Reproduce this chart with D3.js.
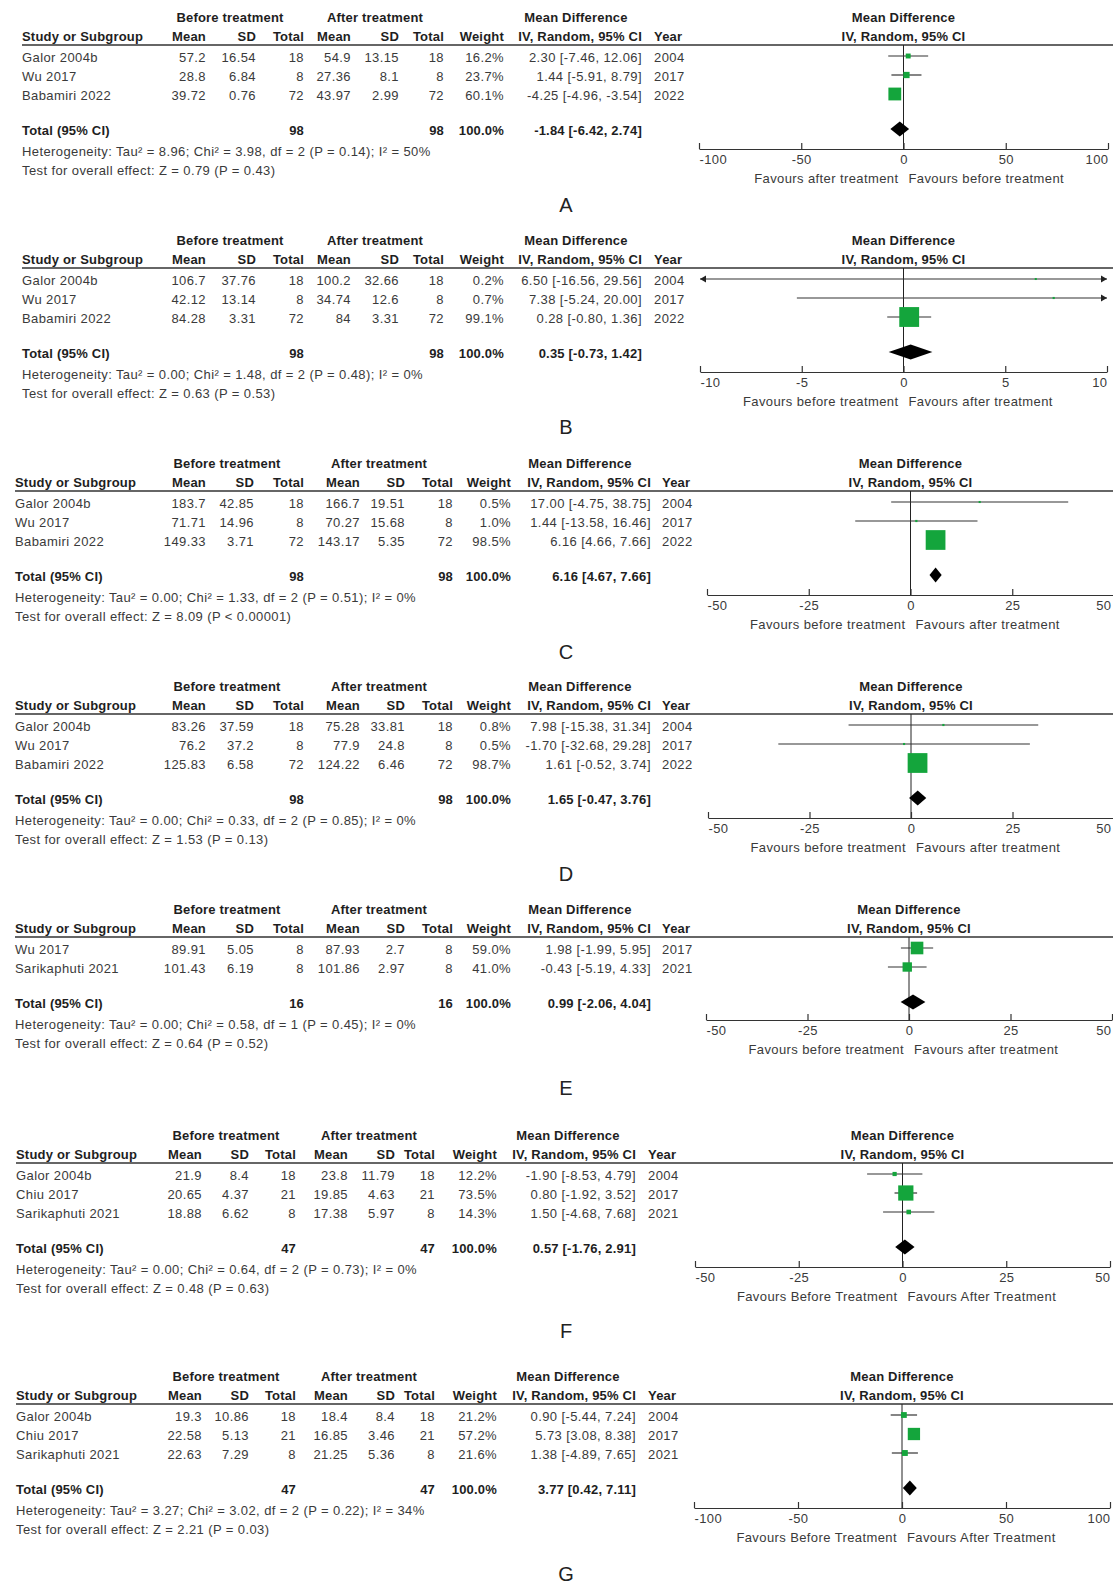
<!DOCTYPE html>
<html><head><meta charset="utf-8">
<script src="https://cdn.jsdelivr.net/npm/d3@7"></script>
<style>
body{margin:0;background:#fff}
svg{display:block}
text{font-family:"Liberation Sans",Arial,sans-serif}
</style>
</head><body>
<svg id="chart" width="1113" height="1584"></svg>
<script>
// ---------------- DATA ----------------
// Panel A
const studyA = ["Galor 2004b", "Wu 2017", "Babamiri 2022"];
const beforeA = [[57.2, 16.54, 18], [28.8, 6.84, 8], [39.72, 0.76, 72]];
const afterA = [[54.9, 13.15, 18], [27.36, 8.1, 8], [43.97, 2.99, 72]];
const weightA = [16.2, 23.7, 60.1];
const mdA = [[2.30, -7.46, 12.06], [1.44, -5.91, 8.79], [-4.25, -4.96, -3.54]];
const yearA = [2004, 2017, 2022];
const totalA = [98, 98, -1.84, -6.42, 2.74];
const hetA = "Heterogeneity: Tau² = 8.96; Chi² = 3.98, df = 2 (P = 0.14); I² = 50%";
const testA = "Test for overall effect: Z = 0.79 (P = 0.43)";
const ticksA = [-100, -50, 0, 50, 100];
const favoursA = ["Favours after treatment", "Favours before treatment"];

// Panel B
const studyB = ["Galor 2004b", "Wu 2017", "Babamiri 2022"];
const beforeB = [[106.7, 37.76, 18], [42.12, 13.14, 8], [84.28, 3.31, 72]];
const afterB = [[100.2, 32.66, 18], [34.74, 12.6, 8], [84, 3.31, 72]];
const weightB = [0.2, 0.7, 99.1];
const mdB = [[6.50, -16.56, 29.56], [7.38, -5.24, 20.00], [0.28, -0.80, 1.36]];
const yearB = [2004, 2017, 2022];
const totalB = [98, 98, 0.35, -0.73, 1.42];
const hetB = "Heterogeneity: Tau² = 0.00; Chi² = 1.48, df = 2 (P = 0.48); I² = 0%";
const testB = "Test for overall effect: Z = 0.63 (P = 0.53)";
const ticksB = [-10, -5, 0, 5, 10];
const favoursB = ["Favours before treatment", "Favours after treatment"];

// Panel C
const studyC = ["Galor 2004b", "Wu 2017", "Babamiri 2022"];
const beforeC = [[183.7, 42.85, 18], [71.71, 14.96, 8], [149.33, 3.71, 72]];
const afterC = [[166.7, 19.51, 18], [70.27, 15.68, 8], [143.17, 5.35, 72]];
const weightC = [0.5, 1.0, 98.5];
const mdC = [[17.00, -4.75, 38.75], [1.44, -13.58, 16.46], [6.16, 4.66, 7.66]];
const yearC = [2004, 2017, 2022];
const totalC = [98, 98, 6.16, 4.67, 7.66];
const hetC = "Heterogeneity: Tau² = 0.00; Chi² = 1.33, df = 2 (P = 0.51); I² = 0%";
const testC = "Test for overall effect: Z = 8.09 (P < 0.00001)";
const ticksC = [-50, -25, 0, 25, 50];
const favoursC = ["Favours before treatment", "Favours after treatment"];

// Panel D
const studyD = ["Galor 2004b", "Wu 2017", "Babamiri 2022"];
const beforeD = [[83.26, 37.59, 18], [76.2, 37.2, 8], [125.83, 6.58, 72]];
const afterD = [[75.28, 33.81, 18], [77.9, 24.8, 8], [124.22, 6.46, 72]];
const weightD = [0.8, 0.5, 98.7];
const mdD = [[7.98, -15.38, 31.34], [-1.70, -32.68, 29.28], [1.61, -0.52, 3.74]];
const yearD = [2004, 2017, 2022];
const totalD = [98, 98, 1.65, -0.47, 3.76];
const hetD = "Heterogeneity: Tau² = 0.00; Chi² = 0.33, df = 2 (P = 0.85); I² = 0%";
const testD = "Test for overall effect: Z = 1.53 (P = 0.13)";
const ticksD = [-50, -25, 0, 25, 50];
const favoursD = ["Favours before treatment", "Favours after treatment"];

// Panel E
const studyE = ["Wu 2017", "Sarikaphuti 2021"];
const beforeE = [[89.91, 5.05, 8], [101.43, 6.19, 8]];
const afterE = [[87.93, 2.7, 8], [101.86, 2.97, 8]];
const weightE = [59.0, 41.0];
const mdE = [[1.98, -1.99, 5.95], [-0.43, -5.19, 4.33]];
const yearE = [2017, 2021];
const totalE = [16, 16, 0.99, -2.06, 4.04];
const hetE = "Heterogeneity: Tau² = 0.00; Chi² = 0.58, df = 1 (P = 0.45); I² = 0%";
const testE = "Test for overall effect: Z = 0.64 (P = 0.52)";
const ticksE = [-50, -25, 0, 25, 50];
const favoursE = ["Favours before treatment", "Favours after treatment"];

// Panel F
const studyF = ["Galor 2004b", "Chiu 2017", "Sarikaphuti 2021"];
const beforeF = [[21.9, 8.4, 18], [20.65, 4.37, 21], [18.88, 6.62, 8]];
const afterF = [[23.8, 11.79, 18], [19.85, 4.63, 21], [17.38, 5.97, 8]];
const weightF = [12.2, 73.5, 14.3];
const mdF = [[-1.90, -8.53, 4.79], [0.80, -1.92, 3.52], [1.50, -4.68, 7.68]];
const yearF = [2004, 2017, 2021];
const totalF = [47, 47, 0.57, -1.76, 2.91];
const hetF = "Heterogeneity: Tau² = 0.00; Chi² = 0.64, df = 2 (P = 0.73); I² = 0%";
const testF = "Test for overall effect: Z = 0.48 (P = 0.63)";
const ticksF = [-50, -25, 0, 25, 50];
const favoursF = ["Favours Before Treatment", "Favours After Treatment"];

// Panel G
const studyG = ["Galor 2004b", "Chiu 2017", "Sarikaphuti 2021"];
const beforeG = [[19.3, 10.86, 18], [22.58, 5.13, 21], [22.63, 7.29, 8]];
const afterG = [[18.4, 8.4, 18], [16.85, 3.46, 21], [21.25, 5.36, 8]];
const weightG = [21.2, 57.2, 21.6];
const mdG = [[0.90, -5.44, 7.24], [5.73, 3.08, 8.38], [1.38, -4.89, 7.65]];
const yearG = [2004, 2017, 2021];
const totalG = [47, 47, 3.77, 0.42, 7.11];
const hetG = "Heterogeneity: Tau² = 3.27; Chi² = 3.02, df = 2 (P = 0.22); I² = 34%";
const testG = "Test for overall effect: Z = 2.21 (P = 0.03)";
const ticksG = [-100, -50, 0, 50, 100];
const favoursG = ["Favours Before Treatment", "Favours After Treatment"];

const panelLetters = ["A", "B", "C", "D", "E", "F", "G"];
const groupHeaders = ["Before treatment", "After treatment", "Mean Difference"];
const columnHeaders = ["Mean", "SD", "Total", "Mean", "SD", "Total", "Weight", "IV, Random, 95% CI"];
const plotHeaders = ["Mean Difference", "IV, Random, 95% CI"];

// ---------------- LAYOUT ----------------
const layAB = {left: 22, cols: [206, 256, 304, 351, 399, 444, 504, 642], yearX: 654, groupX: [230, 375, 576]};
const layCDE = {left: 15, cols: [206, 254, 304, 360, 405, 453, 511, 651], yearX: 662, groupX: [227, 379, 580]};
const layFG = {left: 16, cols: [202, 249, 296, 348, 395, 435, 497, 636], yearX: 648, groupX: [226, 369, 568]};

const panels = [
  {study: studyA, before: beforeA, after: afterA, weight: weightA, md: mdA, year: yearA, total: totalA, het: hetA, test: testA, ticks: ticksA, favours: favoursA,
   lay: layAB, top: 17, plotX: [699, 1108], letterY: 205},
  {study: studyB, before: beforeB, after: afterB, weight: weightB, md: mdB, year: yearB, total: totalB, het: hetB, test: testB, ticks: ticksB, favours: favoursB,
   lay: layAB, top: 240, plotX: [700, 1107], letterY: 427},
  {study: studyC, before: beforeC, after: afterC, weight: weightC, md: mdC, year: yearC, total: totalC, het: hetC, test: testC, ticks: ticksC, favours: favoursC,
   lay: layCDE, top: 463, plotX: [707, 1114], letterY: 652},
  {study: studyD, before: beforeD, after: afterD, weight: weightD, md: mdD, year: yearD, total: totalD, het: hetD, test: testD, ticks: ticksD, favours: favoursD,
   lay: layCDE, top: 686, plotX: [708, 1114], letterY: 874},
  {study: studyE, before: beforeE, after: afterE, weight: weightE, md: mdE, year: yearE, total: totalE, het: hetE, test: testE, ticks: ticksE, favours: favoursE,
   lay: layCDE, top: 909, plotX: [706, 1112], letterY: 1088},
  {study: studyF, before: beforeF, after: afterF, weight: weightF, md: mdF, year: yearF, total: totalF, het: hetF, test: testF, ticks: ticksF, favours: favoursF,
   lay: layFG, top: 1135, plotX: [695, 1110], letterY: 1331},
  {study: studyG, before: beforeG, after: afterG, weight: weightG, md: mdG, year: yearG, total: totalG, het: hetG, test: testG, ticks: ticksG, favours: favoursG,
   lay: layFG, top: 1376, plotX: [694, 1110], letterY: 1574}
];

// ---------------- DRAW ----------------
const svg = d3.select("#chart");
const FS = 13;
const TXT = "#3a3a3a", BOLD = "#1e1e1e", GREEN = "#14a53c";
const sizeScale = d3.scaleLinear().domain([0, 100]).range([2, 20]);
const fmtCI = (m, l, h) => `${m.toFixed(2)} [${l.toFixed(2)}, ${h.toFixed(2)}]`;

function txt(g, x, y, s, opts = {}) {
  return g.append("text")
    .attr("x", x).attr("y", y)
    .attr("dy", "0.36em")
    .attr("text-anchor", opts.anchor || "start")
    .attr("font-size", opts.size || FS)
    .attr("font-weight", opts.bold ? "bold" : "normal")
    .attr("letter-spacing", opts.ls !== undefined ? opts.ls : (opts.bold ? 0.2 : 0.4))
    .attr("fill", opts.fill || (opts.bold ? BOLD : TXT))
    .text(s);
}

panels.forEach((p, pi) => {
  const g = svg.append("g");
  const L = p.lay, T = p.top, n = p.study.length;
  const rowY = i => T + 40 + 19 * i;
  const totalY = rowY(n - 1) + 35;
  const hetY = totalY + 21, testY = hetY + 19;
  const axisY = totalY + (n === 2 ? 17 : 19);
  const x = d3.scaleLinear().domain([p.ticks[0], p.ticks[p.ticks.length - 1]]).range(p.plotX);
  const x0 = x(0);

  // group headers
  groupHeaders.forEach((h, i) => txt(g, L.groupX[i], T, h, {anchor: "middle", bold: true}));
  // column headers
  txt(g, L.left, T + 19, "Study or Subgroup", {bold: true});
  columnHeaders.forEach((h, i) => txt(g, L.cols[i], T + 19, h, {anchor: "end", bold: true}));
  txt(g, L.yearX, T + 19, "Year", {bold: true});
  // plot headers
  txt(g, x0, T, plotHeaders[0], {anchor: "middle", bold: true});
  txt(g, x0, T + 19, plotHeaders[1], {anchor: "middle", bold: true});
  // header rule
  g.append("line").attr("x1", L.left).attr("x2", 1113).attr("y1", T + 28).attr("y2", T + 28)
    .attr("stroke", "#333").attr("stroke-width", 1.5);

  // study rows
  p.study.forEach((s, i) => {
    const y = rowY(i);
    txt(g, L.left, y, s);
    const cells = [p.before[i][0], p.before[i][1], p.before[i][2], p.after[i][0], p.after[i][1], p.after[i][2]]
      .map(String)
      .concat([p.weight[i].toFixed(1) + "%", fmtCI(p.md[i][0], p.md[i][1], p.md[i][2])]);
    cells.forEach((c, j) => txt(g, L.cols[j], y, c, {anchor: "end"}));
    txt(g, L.yearX, y, String(p.year[i]));
  });
  // total row
  txt(g, L.left, totalY, "Total (95% CI)", {bold: true});
  txt(g, L.cols[2], totalY, String(p.total[0]), {anchor: "end", bold: true});
  txt(g, L.cols[5], totalY, String(p.total[1]), {anchor: "end", bold: true});
  txt(g, L.cols[6], totalY, "100.0%", {anchor: "end", bold: true});
  txt(g, L.cols[7], totalY, fmtCI(p.total[2], p.total[3], p.total[4]), {anchor: "end", bold: true});
  txt(g, L.left, hetY, p.het);
  txt(g, L.left, testY, p.test);

  // zero line
  g.append("line").attr("x1", x0).attr("x2", x0).attr("y1", T + 28).attr("y2", axisY)
    .attr("stroke", "#222").attr("stroke-width", 1);

  // CIs and squares
  const [d0, d1] = x.domain();
  p.md.forEach((m, i) => {
    const y = rowY(i) - 1;
    const lo = Math.max(m[1], d0), hi = Math.min(m[2], d1);
    g.append("line").attr("x1", x(lo)).attr("x2", x(hi)).attr("y1", y).attr("y2", y)
      .attr("stroke", "#333").attr("stroke-width", 1.2);
    if (m[1] < d0) {
      const xe = x(d0);
      g.append("path").attr("d", `M${xe},${y} L${xe + 6},${y - 3.5} L${xe + 6},${y + 3.5} Z`).attr("fill", "#222");
    }
    if (m[2] > d1) {
      const xe = x(d1);
      g.append("path").attr("d", `M${xe},${y} L${xe - 6},${y - 3.5} L${xe - 6},${y + 3.5} Z`).attr("fill", "#222");
    }
    const s = sizeScale(p.weight[i]);
    g.append("rect").attr("x", x(m[0]) - s / 2).attr("y", y - s / 2).attr("width", s).attr("height", s)
      .attr("fill", GREEN);
  });

  // diamond
  const dy = totalY - 1;
  g.append("path")
    .attr("d", `M${x(p.total[3])},${dy} L${x(p.total[2])},${dy - 7.5} L${x(p.total[4])},${dy} L${x(p.total[2])},${dy + 7.5} Z`)
    .attr("fill", "#000");

  // axis
  const ax = g.append("g").attr("transform", `translate(0,${axisY})`)
    .call(d3.axisBottom(x).tickValues(p.ticks).tickSizeInner(-6).tickSizeOuter(0).tickPadding(6).tickFormat(d => String(d)));
  ax.select(".domain").attr("stroke", "#333").attr("stroke-width", 1.2);
  ax.selectAll(".tick line").attr("stroke", "#333").attr("stroke-width", 1.2);
  const last = p.ticks.length - 1;
  ax.selectAll(".tick text")
    .attr("font-size", FS).attr("fill", TXT).attr("letter-spacing", 0.4)
    .attr("font-family", '"Liberation Sans",Arial,sans-serif').attr("dy", "0.71em")
    .attr("text-anchor", (d, i) => i === 0 ? "start" : (i === last ? "end" : "middle"))
    .attr("x", (d, i) => i === last ? Math.min(0, 1111 - x(d)) : 0);

  // favours labels
  txt(g, x0 - 5, axisY + 29, p.favours[0], {anchor: "end"});
  txt(g, x0 + 5, axisY + 29, p.favours[1]);

  // panel letter
  txt(g, 566, p.letterY, panelLetters[pi], {anchor: "middle", size: 20, fill: "#222", ls: 0});
});
</script>
</body></html>
